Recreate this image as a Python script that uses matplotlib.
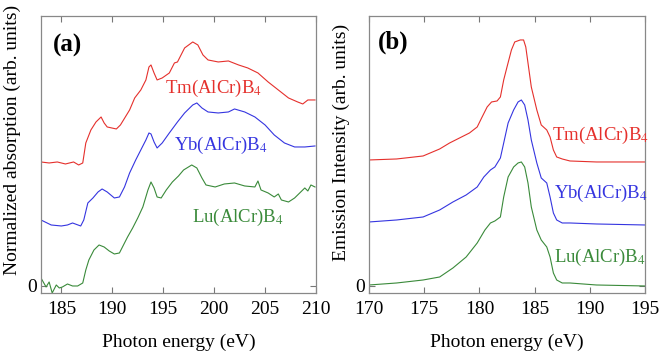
import matplotlib
matplotlib.use("Agg")
import matplotlib.pyplot as plt

plt.rcParams['font.family'] = ['Liberation Serif', 'DejaVu Serif']
plt.rcParams['mathtext.fontset'] = 'stix'

# ---------- Panel (a): absorption (arb. units) ----------
abs_tm_x = [183.0, 183.8, 184.6, 185.4, 186.2, 186.7, 187.1, 187.4, 187.9, 188.4, 188.9, 189.2, 189.5, 190.4,
            190.8, 191.7, 192.2, 192.8, 193.3, 193.6, 193.8, 194.1, 194.4, 194.9, 195.6, 196.1, 196.4,
            197.1, 197.9, 198.4, 198.9, 199.4, 200.4, 201.4, 202.4, 203.3, 204.3, 205.3, 206.3, 207.3,
            208.2, 208.7, 209.2, 209.9]
abs_tm_y = [1.24, 1.23, 1.24, 1.22, 1.24, 1.21, 1.23, 1.43, 1.56, 1.64, 1.69, 1.63, 1.59, 1.57,
            1.61, 1.76, 1.88, 1.96, 2.06, 2.19, 2.21, 2.13, 2.06, 2.08, 2.13, 2.23, 2.24,
            2.38, 2.44, 2.41, 2.31, 2.26, 2.24, 2.25, 2.21, 2.18, 2.13, 2.04, 1.96, 1.88,
            1.84, 1.82, 1.86, 1.86]

abs_yb_x = [183.0, 184.0, 185.0, 185.6, 186.1, 186.9, 187.2, 187.6, 188.1, 188.6, 189.0, 189.5, 190.2,
            190.7, 191.2, 191.7, 192.3, 192.8, 193.3, 193.6, 193.8, 194.1, 194.4, 194.9, 195.6, 196.4,
            197.1, 197.9, 198.3, 198.8, 199.4, 200.4, 201.4, 202.0, 203.0, 204.0, 205.0, 205.9, 206.9,
            207.9, 208.9, 209.9]
abs_yb_y = [0.66, 0.61, 0.60, 0.61, 0.63, 0.60, 0.66, 0.83, 0.88, 0.94, 0.97, 0.94, 0.88,
            0.89, 0.99, 1.13, 1.26, 1.36, 1.46, 1.53, 1.52, 1.44, 1.38, 1.43, 1.53, 1.64,
            1.73, 1.81, 1.83, 1.78, 1.74, 1.73, 1.74, 1.77, 1.74, 1.69, 1.61, 1.51, 1.43,
            1.39, 1.39, 1.40]

abs_lu_x = [183.0, 183.5, 183.8, 184.1, 184.5, 184.8, 185.1, 185.6, 186.1, 186.6, 187.1, 187.4, 187.7,
            188.2, 188.7, 189.2, 189.7, 190.2, 190.7, 191.0, 191.5, 192.0, 192.5, 193.0, 193.5, 193.8,
            194.1, 194.4, 194.8, 195.3, 195.9, 196.5, 197.0, 197.8, 198.3, 198.8, 199.2, 200.1, 201.0,
            202.0, 203.0, 204.0, 204.3, 204.6, 205.3, 205.9, 206.3, 206.6, 207.3, 207.9, 208.4, 208.9,
            209.2, 209.5, 209.9]
abs_lu_y = [0.08, -0.01, 0.04, -0.07, 0.01, -0.02, -0.01, 0.02, 0.00, 0.00, 0.03, 0.16, 0.26,
            0.36, 0.41, 0.39, 0.35, 0.32, 0.33, 0.39, 0.49, 0.58, 0.68, 0.79, 0.96, 1.04,
            0.98, 0.89, 0.88, 0.96, 1.04, 1.10, 1.16, 1.21, 1.18, 1.08, 1.01, 0.99, 1.02,
            1.03, 1.00, 0.99, 1.05, 0.96, 0.93, 0.89, 0.92, 0.86, 0.84, 0.88, 0.93, 0.98,
            0.95, 1.01, 0.99]

# ---------- Panel (b): emission (arb. units) ----------
em_tm_x = [170.0, 172.5, 174.9, 176.4, 177.3, 178.2, 179.1, 179.8, 180.2, 180.7, 181.1, 181.6, 181.9,
           182.2, 182.5, 182.9, 183.2, 183.7, 184.0, 184.2, 184.4, 184.7, 185.2, 185.6, 186.1, 186.4,
           186.7, 187.0, 187.5, 188.2, 190.6, 195.0]
em_tm_y = [1.26, 1.27, 1.30, 1.37, 1.43, 1.48, 1.53, 1.59, 1.68, 1.79, 1.84, 1.85, 1.89,
           2.06, 2.19, 2.36, 2.44, 2.46, 2.46, 2.39, 2.23, 1.99, 1.76, 1.61, 1.56, 1.49,
           1.36, 1.29, 1.27, 1.25, 1.24, 1.24]

em_yb_x = [170.0, 172.5, 174.9, 176.4, 177.6, 178.8, 179.8, 180.4, 181.0, 181.4, 181.9, 182.2, 182.6,
           183.1, 183.5, 183.8, 184.1, 184.4, 184.7, 185.2, 185.6, 186.1, 186.4, 186.7, 187.0, 187.5,
           188.2, 190.6, 195.0]
em_yb_y = [0.64, 0.66, 0.69, 0.76, 0.84, 0.91, 0.99, 1.09, 1.16, 1.19, 1.28, 1.43, 1.63,
           1.76, 1.84, 1.86, 1.81, 1.66, 1.46, 1.23, 1.08, 1.03, 0.89, 0.73, 0.66, 0.63,
           0.63, 0.62, 0.61]

em_lu_x = [170.0, 172.5, 174.9, 176.4, 177.6, 178.8, 179.8, 180.5, 181.0, 181.4, 181.9, 182.2, 182.6,
           183.1, 183.5, 183.8, 184.1, 184.4, 184.7, 185.2, 185.6, 186.1, 186.4, 186.7, 187.0, 187.5,
           188.2, 190.6, 195.0]
em_lu_y = [0.01, 0.03, 0.06, 0.09, 0.18, 0.29, 0.43, 0.56, 0.63, 0.65, 0.69, 0.89, 1.09,
           1.19, 1.23, 1.24, 1.19, 1.03, 0.79, 0.56, 0.46, 0.39, 0.29, 0.13, 0.06, 0.03,
           0.03, 0.01, 0.00]

names = ['Tm(AlCr)B$_4$', 'Yb(AlCr)B$_4$', 'Lu(AlCr)B$_4$']
colors = ['#e5302c', '#3535e0', '#3a8a3a']

fig = plt.figure(figsize=(6.6, 3.57), dpi=100)
ax1 = fig.add_axes([0.0621, 0.1793, 0.4167, 0.776])
ax2 = fig.add_axes([0.5591, 0.1793, 0.4182, 0.776])

for x, y, c in zip([abs_tm_x, abs_yb_x, abs_lu_x], [abs_tm_y, abs_yb_y, abs_lu_y], colors):
    ax1.plot(x, y, color=c, lw=0.8)
for x, y, c in zip([em_tm_x, em_yb_x, em_lu_x], [em_tm_y, em_yb_y, em_lu_y], colors):
    ax2.plot(x, y, color=c, lw=0.8)

ax1.set_xlim(183, 210)
ax2.set_xlim(170, 195)
for ax in (ax1, ax2):
    ax.set_ylim(-0.07, 2.70)
    ax.set_yticks([0])
    ax.set_yticklabels(['0'])
    ax.tick_params(direction='in', length=4, width=0.8, color='#777777',
                   labelsize=14, top=True, right=True, pad=6)
    for s in ax.spines.values():
        s.set_color('#888888')
        s.set_linewidth(0.9)
    ax.set_xlabel('Photon energy (eV)', fontsize=14, labelpad=11)
ax1.set_xticks([185, 190, 195, 200, 205, 210])
ax2.set_xticks([170, 175, 180, 185, 190, 195])
ax1.tick_params(axis='y', pad=3)
ax2.tick_params(axis='y', pad=3)
ax1.set_ylabel('Normalized absorption (arb. units)', fontsize=14)
ax2.set_ylabel('Emission Intensity (arb. units)', fontsize=14)
ax1.yaxis.set_label_coords(-0.073, 0.552)
ax2.yaxis.set_label_coords(-0.069, 0.545)

ax1.text(0.098, 0.895, '(a)', transform=ax1.transAxes, fontsize=18, fontweight='bold', ha='center', va='center')
ax2.text(0.089, 0.905, '(b)', transform=ax2.transAxes, fontsize=18, fontweight='bold', ha='center', va='center')

# label anchors (data coords)
lab_a = [(199.9, 1.98), (200.7, 1.41), (202.3, 0.69)]
lab_b = [(191.0, 1.51), (191.05, 0.93), (190.9, 0.29)]
for (x, y), n, c in zip(lab_a, names, colors):
    ax1.text(x, y, n, color=c, fontsize=13.5, ha='center', va='center')
for (x, y), n, c in zip(lab_b, names, colors):
    ax2.text(x, y, n, color=c, fontsize=13.5, ha='center', va='center')

fig.savefig('out.png', dpi=100)
